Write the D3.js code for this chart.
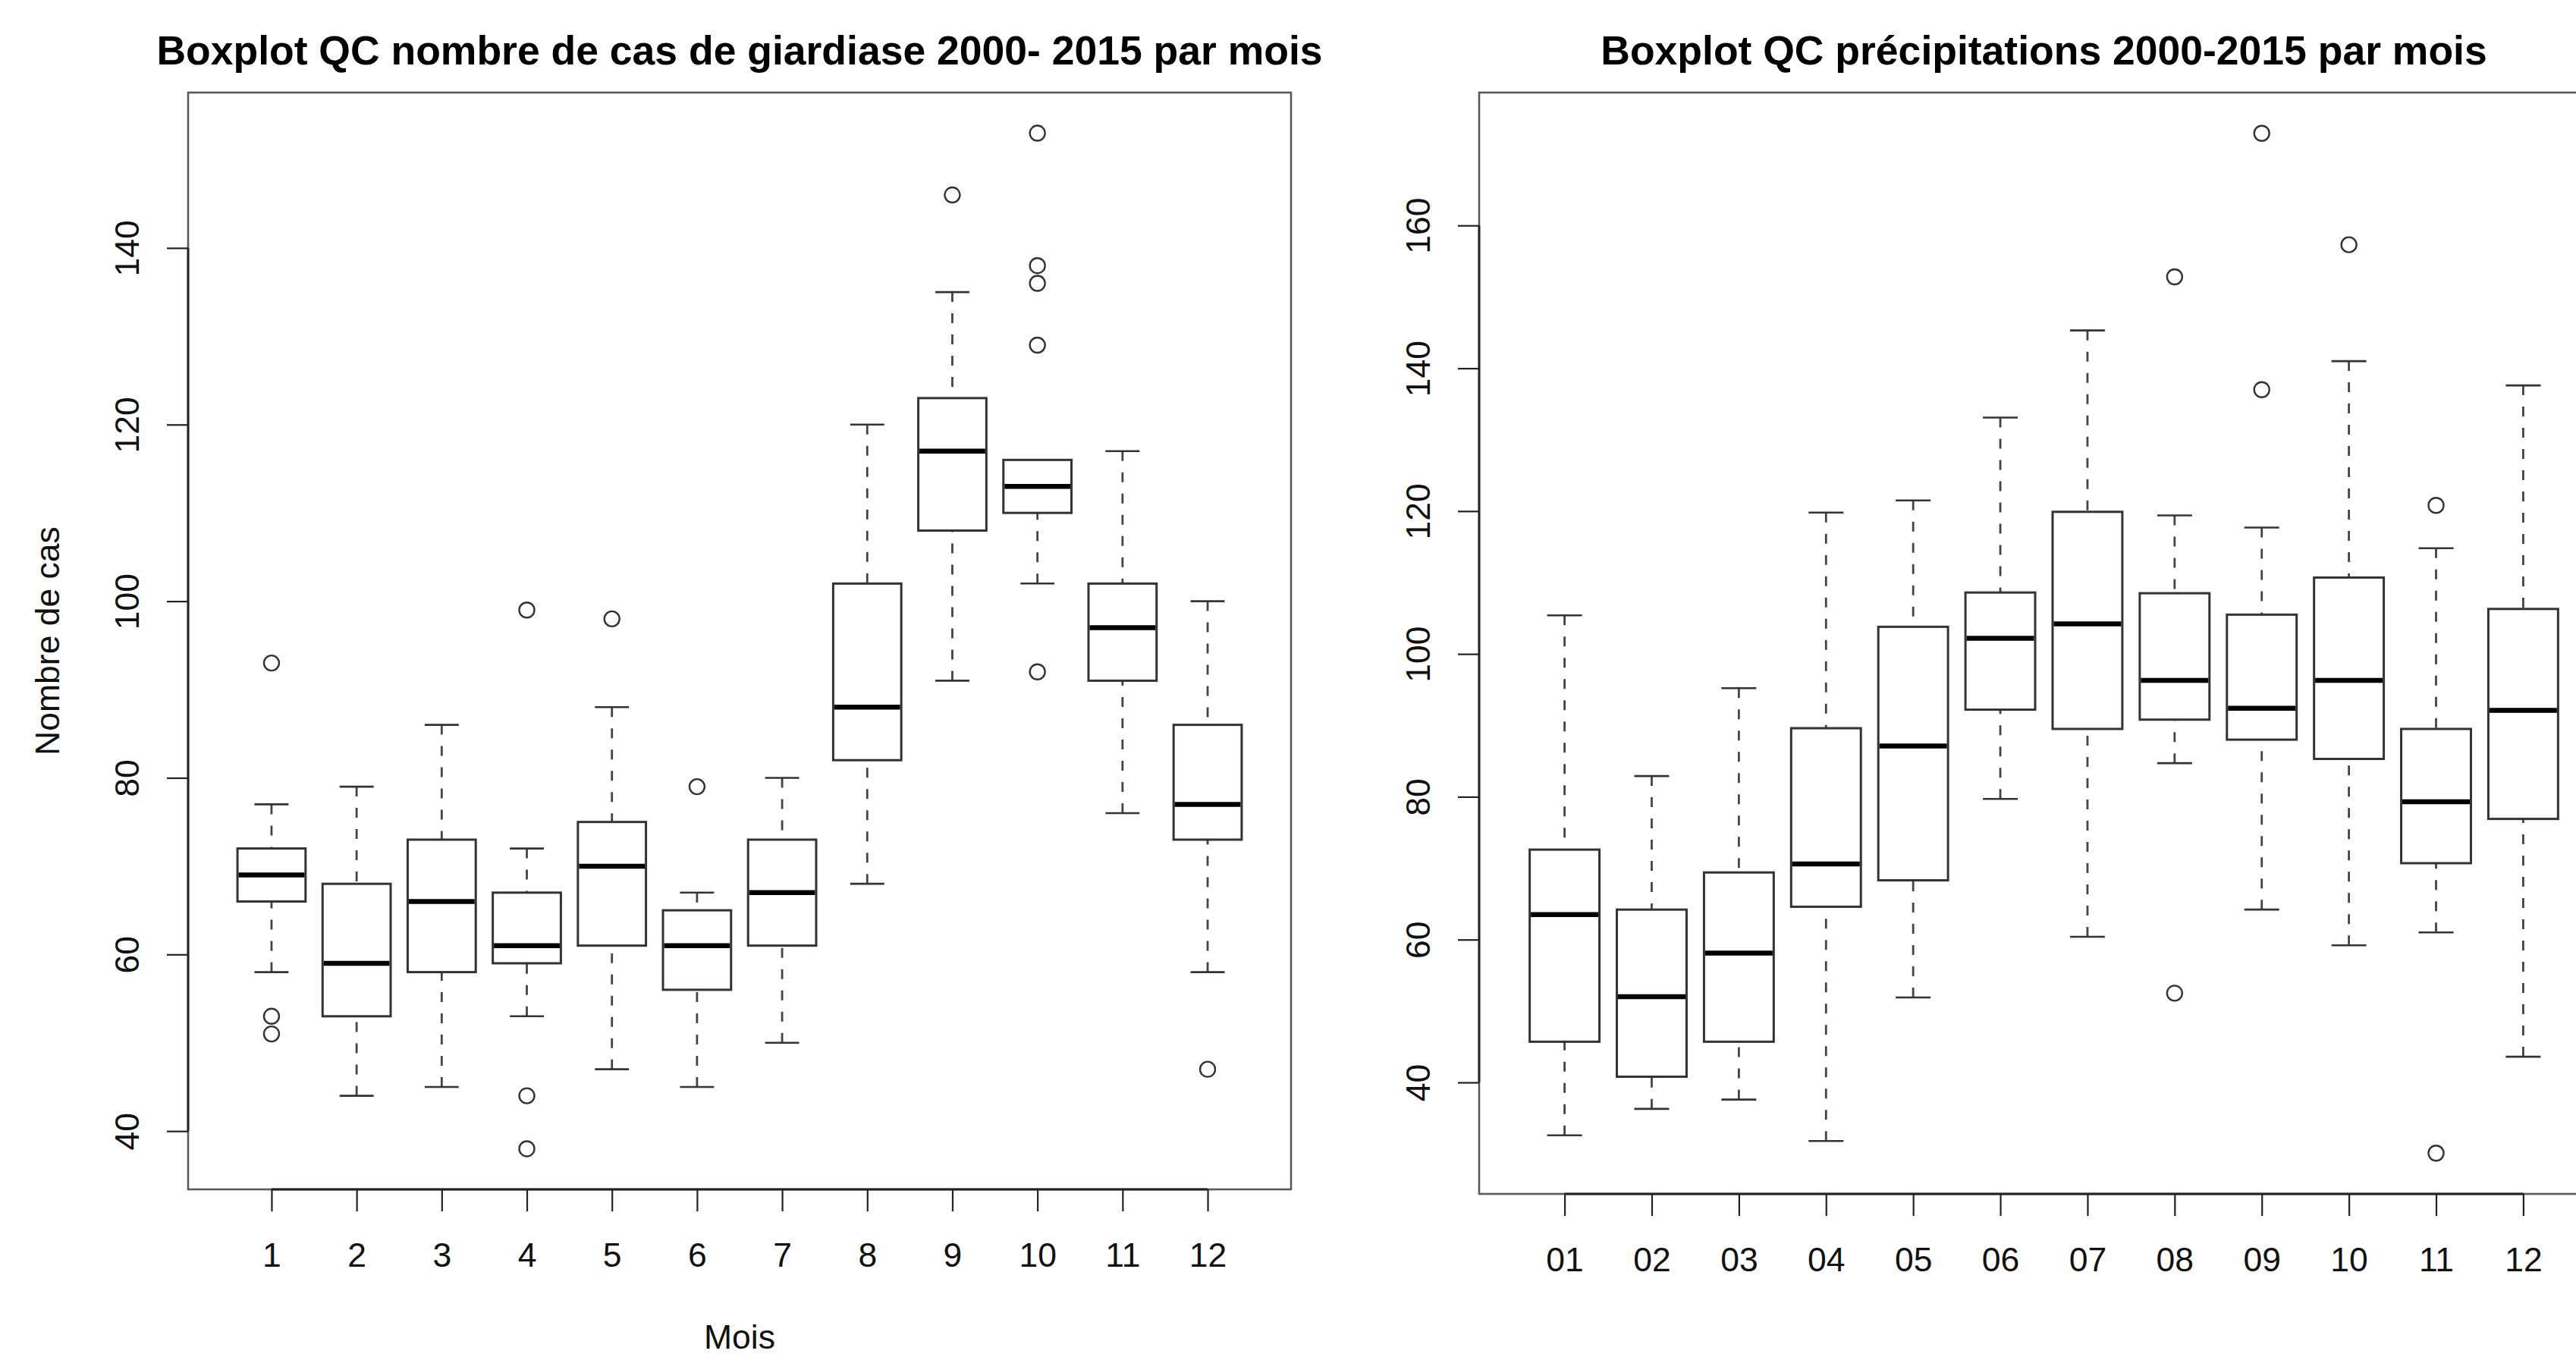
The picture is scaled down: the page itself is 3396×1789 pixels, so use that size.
<!DOCTYPE html>
<html>
<head>
<meta charset="utf-8">
<script src="https://cdn.jsdelivr.net/npm/d3@7"></script>
<style>
  body { margin: 0; background: #fff; }
  svg { display: block; font-family: "Liberation Sans", Arial, sans-serif; }
</style>
</head>
<body>
<svg id="chart" width="3396" height="1789"></svg>
<script>
// giardiase, cas par mois 2000-2015
const giardiaMonths = ["1", "2", "3", "4", "5", "6", "7", "8", "9", "10", "11", "12"];
const giardiaLow    = [58, 44, 45, 53, 47, 45, 50, 68, 91, 102, 76, 58];
const giardiaQ1     = [66, 53, 58, 59, 61, 56, 61, 82, 108, 110, 91, 73];
const giardiaMedian = [69, 59, 66, 61, 70, 61, 67, 88, 117, 113, 97, 77];
const giardiaQ3     = [72, 68, 73, 67, 75, 65, 73, 102, 123, 116, 102, 86];
const giardiaHigh   = [77, 79, 86, 72, 88, 67, 80, 120, 135, 116, 117, 100];
const giardiaOut    = [[93, 53, 51], [], [], [99, 44, 38], [98], [79], [], [], [146], [153, 138, 136, 129, 92], [], [47]];
const giardiaTicks  = [40, 60, 80, 100, 120, 140];

// precipitations par mois 2000-2015
const precipMonths = ["01", "02", "03", "04", "05", "06", "07", "08", "09", "10", "11", "12"];
const precipLow    = [32.6, 36.3, 37.6, 31.8, 51.9, 79.7, 60.4, 84.7, 64.2, 59.2, 61.0, 43.6];
const precipQ1     = [45.7, 40.8, 45.7, 64.6, 68.3, 92.2, 89.5, 90.8, 88.0, 85.3, 70.7, 76.9];
const precipMedian = [63.5, 52.0, 58.1, 70.6, 87.1, 102.2, 104.2, 96.3, 92.4, 96.3, 79.3, 92.1];
const precipQ3     = [72.6, 64.2, 69.4, 89.6, 103.8, 108.6, 119.9, 108.5, 105.5, 110.7, 89.5, 106.3];
const precipHigh   = [105.4, 82.9, 95.2, 119.8, 121.5, 133.1, 145.3, 119.4, 117.7, 141.0, 114.8, 137.6];
const precipOut    = [[], [], [], [], [], [], [], [152.8, 52.5], [172.9, 137], [157.3], [120.8, 30.1], []];
const precipTicks  = [40, 60, 80, 100, 120, 140, 160];

const svg = d3.select("#chart");

function boxplot(cfg) {
  const { left, right, top, bottom } = cfg.box;
  const n = cfg.labels.length;
  const stats = cfg.labels.map((lab, i) => ({
    i: i + 1, lo: cfg.low[i], q1: cfg.q1[i], med: cfg.med[i],
    q3: cfg.q3[i], hi: cfg.high[i], out: cfg.out[i]
  }));

  // R style limits: data range widened by 4% on each side
  const all = stats.flatMap(d => [d.lo, d.hi, ...d.out]);
  const [mn, mx] = d3.extent(all);
  const pad = (mx - mn) * 0.04;
  const y = d3.scaleLinear().domain([mn - pad, mx + pad]).range([bottom, top]);
  const xPad = n * 0.04;
  const x = d3.scaleLinear().domain([0.5 - xPad, n + 0.5 + xPad]).range([left, right]);

  const g = svg.append("g");

  g.append("text")
    .attr("x", (left + right) / 2).attr("y", 85)
    .attr("text-anchor", "middle")
    .attr("font-size", 53.5).attr("font-weight", "bold").attr("fill", "#000")
    .text(cfg.title);

  // frame
  g.append("rect")
    .attr("x", left).attr("y", top)
    .attr("width", right - left).attr("height", bottom - top)
    .attr("fill", "none").attr("stroke", "#5a5a5a").attr("stroke-width", 2.6);

  const bw = 0.4, sw = 0.2;
  const boxes = g.selectAll(".bx").data(stats).join("g").attr("class", "bx");

  boxes.append("line")
    .attr("x1", d => x(d.i)).attr("x2", d => x(d.i))
    .attr("y1", d => y(d.hi)).attr("y2", d => y(d.q3))
    .attr("stroke", "#444").attr("stroke-width", 2.8).attr("stroke-dasharray", "13,15");
  boxes.append("line")
    .attr("x1", d => x(d.i)).attr("x2", d => x(d.i))
    .attr("y1", d => y(d.lo)).attr("y2", d => y(d.q1))
    .attr("stroke", "#444").attr("stroke-width", 2.8).attr("stroke-dasharray", "13,15");
  boxes.append("line")
    .attr("x1", d => x(d.i - sw)).attr("x2", d => x(d.i + sw))
    .attr("y1", d => y(d.hi)).attr("y2", d => y(d.hi))
    .attr("stroke", "#333").attr("stroke-width", 2.6);
  boxes.append("line")
    .attr("x1", d => x(d.i - sw)).attr("x2", d => x(d.i + sw))
    .attr("y1", d => y(d.lo)).attr("y2", d => y(d.lo))
    .attr("stroke", "#333").attr("stroke-width", 2.6);
  boxes.append("rect")
    .attr("x", d => x(d.i - bw)).attr("width", d => x(d.i + bw) - x(d.i - bw))
    .attr("y", d => y(d.q3)).attr("height", d => y(d.q1) - y(d.q3))
    .attr("fill", "#fff").attr("stroke", "#333").attr("stroke-width", 3);
  boxes.append("line")
    .attr("x1", d => x(d.i - bw) + 1.5).attr("x2", d => x(d.i + bw) - 1.5)
    .attr("y1", d => y(d.med)).attr("y2", d => y(d.med))
    .attr("stroke", "#000").attr("stroke-width", 6.5);
  boxes.selectAll("circle").data(d => d.out.map(v => ({ i: d.i, v }))).join("circle")
    .attr("cx", d => x(d.i)).attr("cy", d => y(d.v)).attr("r", 10)
    .attr("fill", "none").attr("stroke", "#333").attr("stroke-width", 2.4);

  // x axis
  const xAxis = g.append("g").attr("transform", `translate(0,${bottom})`)
    .call(d3.axisBottom(x).tickValues(d3.range(1, n + 1))
      .tickFormat((d, i) => cfg.labels[i]).tickSize(29).tickSizeOuter(0));
  xAxis.select(".domain").attr("d", `M${x(1)},0H${x(n)}`)
    .attr("stroke", "#222").attr("stroke-width", 2.8);
  xAxis.selectAll(".tick line").attr("stroke", "#222").attr("stroke-width", 2.2);
  xAxis.selectAll(".tick text")
    .attr("y", 102).attr("dy", null)
    .attr("font-size", 44.5).attr("fill", "#111")
    .attr("font-family", "Liberation Sans, Arial, sans-serif");

  // y axis
  const yt = cfg.yTicks;
  const yAxis = g.append("g").attr("transform", `translate(${left},0)`)
    .call(d3.axisLeft(y).tickValues(yt).tickSize(28).tickSizeOuter(0));
  yAxis.select(".domain").attr("d", `M0,${y(yt[0])}V${y(yt[yt.length - 1])}`)
    .attr("stroke", "#222").attr("stroke-width", 2.8);
  yAxis.selectAll(".tick line").attr("stroke", "#222").attr("stroke-width", 2.2);
  yAxis.selectAll(".tick text")
    .attr("x", 0).attr("y", -65).attr("dy", null)
    .attr("transform", "rotate(-90)")
    .attr("text-anchor", "middle")
    .attr("font-size", 44.5).attr("fill", "#111")
    .attr("font-family", "Liberation Sans, Arial, sans-serif");

  if (cfg.xTitle) {
    g.append("text")
      .attr("x", (left + right) / 2).attr("y", 1778)
      .attr("text-anchor", "middle").attr("font-size", 44.5).attr("fill", "#111")
      .text(cfg.xTitle);
  }
  if (cfg.yTitle) {
    g.append("text")
      .attr("transform", `translate(78,${(top + bottom) / 2}) rotate(-90)`)
      .attr("text-anchor", "middle").attr("font-size", 44.5).attr("fill", "#111")
      .text(cfg.yTitle);
  }
}

boxplot({
  title: "Boxplot QC nombre de cas de giardiase 2000- 2015 par mois",
  labels: giardiaMonths, low: giardiaLow, q1: giardiaQ1, med: giardiaMedian,
  q3: giardiaQ3, high: giardiaHigh, out: giardiaOut, yTicks: giardiaTicks,
  xTitle: "Mois", yTitle: "Nombre de cas",
  box: { left: 248, right: 1702, top: 122, bottom: 1568 }
});

boxplot({
  title: "Boxplot QC précipitations 2000-2015 par mois",
  labels: precipMonths, low: precipLow, q1: precipQ1, med: precipMedian,
  q3: precipQ3, high: precipHigh, out: precipOut, yTicks: precipTicks,
  box: { left: 1950, right: 3439, top: 122, bottom: 1574 }
});
</script>
</body>
</html>
